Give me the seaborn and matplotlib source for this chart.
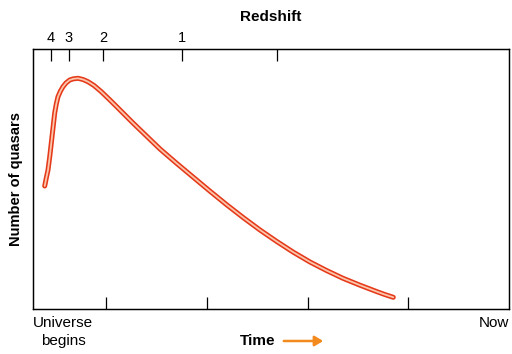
import matplotlib
matplotlib.use("Agg")
import matplotlib.pyplot as plt
import seaborn as sns
import pandas as pd

# Data (time in arbitrary units from universe start, quasar count in arbitrary units)
time = [11.7, 13.3, 15, 16.7, 18.3, 20, 21.7, 23.3, 25, 27.5, 30, 33, 36.7, 40.5, 45,
        50, 55, 61, 68.3, 76, 84, 92, 100, 113.5, 127, 143.5, 160, 177, 194, 210.5,
        227, 243.5, 260, 277, 293.5, 310, 327, 344, 352, 360.3]
quasars = [123, 131, 139, 152, 166, 181, 196, 205, 212.3, 218, 222.3, 226, 229, 230.2, 230.7,
           229.5, 227.3, 223.5, 217.3, 209.9, 202, 194, 186, 173, 160, 145.8, 132, 117.8, 104, 91.2,
           79, 67.7, 57, 47, 38.5, 30.7, 23.8, 17.3, 14.4, 11.7]

redshift_ticks = [18, 36, 70, 149, 244]
redshift_labels = ["4", "3", "2", "1", ""]
time_ticks = [73, 174, 275, 375]

df = pd.DataFrame({"time": time, "quasars": quasars})

sns.set_theme(style="white")
plt.rcParams['font.family'] = ['Liberation Sans', 'DejaVu Sans']
plt.rcParams['text.color'] = 'black'
plt.rcParams['axes.labelcolor'] = 'black'
plt.rcParams['xtick.color'] = 'black'

fig = plt.figure(figsize=(5.12, 3.54), dpi=100)
ax = fig.add_axes([33/512, 45/354, 476/512, 260/354])

sns.lineplot(data=df, x="time", y="quasars", ax=ax, color="#e5391a", lw=3.6,
             solid_capstyle="round", solid_joinstyle="round", sort=False)
sns.lineplot(data=df, x="time", y="quasars", ax=ax, color="#fcc6ab", lw=1.3,
             solid_capstyle="round", solid_joinstyle="round", sort=False)

ax.set_xlim(0, 476)
ax.set_ylim(0, 260)
ax.set_xlabel("")
ax.set_ylabel("Number of quasars", fontsize=10.5, fontweight="bold", labelpad=7)
ax.set_yticks([])
ax.set_xticks(time_ticks)
ax.set_xticklabels([])
ax.tick_params(axis="x", direction="in", length=8.6, width=0.9, color="black", bottom=True)
for s in ax.spines.values():
    s.set_color("black")
    s.set_linewidth(0.9)

ax2 = ax.twiny()
ax2.set_xlim(0, 476)
ax2.set_xticks(redshift_ticks)
ax2.set_xticklabels(redshift_labels, fontsize=10.5)
ax2.tick_params(axis="x", direction="in", length=8.6, width=0.9, color="black", pad=3, top=True)
ax2.set_xlabel("Redshift", fontsize=11, fontweight="bold", labelpad=7)
ax2.set_yticks([])
for s in ax2.spines.values():
    s.set_color("black")
    s.set_linewidth(0.9)

fig.text(63/512, 1 - 323/354, "Universe", ha="center", va="center", fontsize=11)
fig.text(63/512, 1 - 341/354, "begins", ha="center", va="center", fontsize=11)
fig.text(509/512, 1 - 323/354, "Now", ha="right", va="center", fontsize=11)
fig.text(258/512, 1 - 341/354, "Time", ha="center", va="center", fontsize=11, fontweight="bold")
fig.patches.append(matplotlib.patches.FancyArrowPatch(
    (281/512, 1 - 341/354), (326/512, 1 - 341/354), transform=fig.transFigure,
    arrowstyle="-|>,head_length=5,head_width=3", color="#f28a1e", lw=1.8, mutation_scale=1))

fig.savefig("out.png", dpi=100)
